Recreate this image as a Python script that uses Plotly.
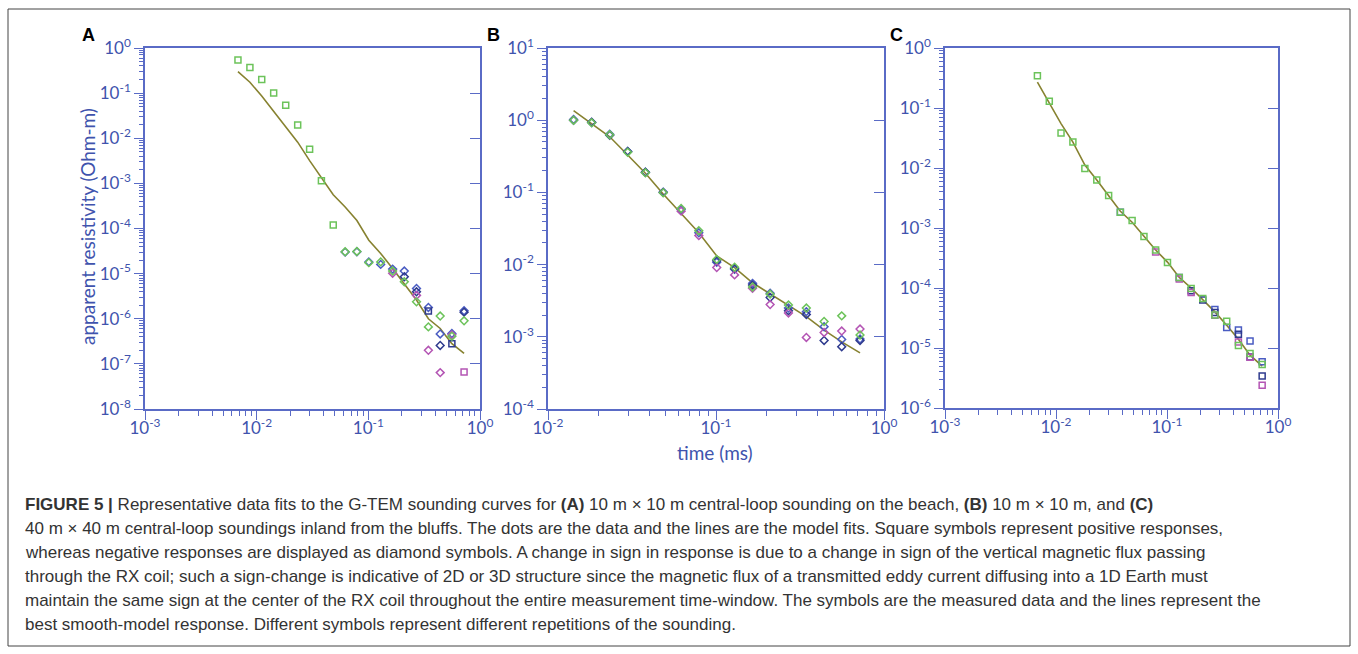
import plotly.graph_objects as go

W, H = 1358, 654

# ---------------- data ----------------
TIME_MS = [0.0068, 0.0087, 0.0111, 0.0142, 0.0182, 0.0233, 0.0298, 0.0380, 0.0485, 0.0620,
           0.0790, 0.101, 0.129, 0.165, 0.210, 0.270, 0.345, 0.440, 0.560, 0.720]

# signed apparent resistivity: positive -> square, negative -> diamond
N = None
A_REP1 = [0.54, 0.37, 0.20, 0.10, 0.054, 0.0196, 0.0057, 0.00114, 1.19e-4, -3.05e-5,
          -3.1e-5, -1.75e-5, -1.82e-5, -1.14e-5, -6.6e-6, -2.37e-6, -6.6e-7, -1.15e-6, -4.1e-7, -9.0e-7]
A_REP2 = [N, N, N, N, N, N, N, N, N, -3.0e-5,
          -3.05e-5, -1.82e-5, -1.6e-5, -1.26e-5, -1.14e-5, -4.7e-6, -1.78e-6, -4.6e-7, -4.7e-7, -1.5e-6]
A_REP3 = [N, N, N, N, N, N, N, N, N, N,
          N, N, N, N, -8.5e-6, -3.95e-6, 1.48e-6, -2.56e-7, 2.8e-7, -1.4e-6]
A_REP4 = [N, N, N, N, N, N, N, N, N, N,
          N, N, N, -1.02e-5, N, -3.3e-6, -2.0e-7, -6.4e-8, -4.4e-7, 6.6e-8]
A_MODEL = [0.30, 0.174, 0.086, 0.040, 0.0184, 0.0082, 0.0032, 0.00136, 5.6e-4, 3.0e-4,
           1.5e-4, 5.5e-5, 2.8e-5, 1.3e-5, 5.9e-6, 2.6e-6, 1.0e-6, 6.1e-7, 2.8e-7, 1.7e-7]

B_REP1 = [N, N, N, -1.0, -0.92, -0.63, -0.36, -0.187, -0.099, -0.060,
          -0.0295, -0.0118, -0.0092, -0.0049, -0.0039, -0.00275, -0.0025, -0.00163, -0.00195, -0.00106]
B_REP2 = [N, N, N, -1.02, -0.93, -0.64, -0.37, -0.19, -0.101, -0.058,
          -0.0276, -0.0108, -0.0086, -0.0055, -0.0040, -0.0025, -0.00223, -0.00138, -0.00092, -0.00093]
B_REP3 = [N, N, N, -1.0, -0.94, -0.62, -0.37, -0.19, -0.10, N,
          N, -0.0113, -0.0088, -0.0052, -0.0035, -0.0023, -0.00204, -0.00089, -0.00073, -0.00089]
B_REP4 = [N, N, N, N, N, N, N, N, N, -0.055,
          -0.0252, -0.0091, -0.0072, -0.0047, -0.0028, -0.00214, -0.00098, -0.00115, -0.0012, -0.00128]
B_MODEL = [N, N, N, 1.36, 0.90, 0.59, 0.33, 0.184, 0.095, 0.051,
           0.0277, 0.0132, 0.0091, 0.0056, 0.0039, 0.00270, 0.0019, 0.00124, 0.00085, 0.0006]

C_REP1 = [0.344, 0.13, 0.0384, 0.0271, 0.0098, 0.0063, 0.00348, 0.00183, 0.00133, 7.2e-4,
          4.3e-4, 2.67e-4, 1.5e-4, 9.8e-5, 6.7e-5, 3.55e-5, 2.8e-5, 1.1e-5, 8.1e-6, 5.3e-6]
C_REP2 = [N, N, N, N, N, N, N, 0.00183, N, N,
          N, N, 1.5e-4, N, N, 4.4e-5, 2.2e-5, 2.0e-5, 1.31e-5, 5.9e-6]
C_REP3 = [N, N, N, N, N, N, N, N, N, N,
          N, N, N, 9.0e-5, 6.3e-5, 3.9e-5, N, 1.7e-5, 7.1e-6, 3.4e-6]
C_REP4 = [N, N, N, N, N, N, N, N, N, N,
          4.0e-4, N, 1.41e-4, 8.4e-5, N, 3.5e-5, N, 1.26e-5, 7.0e-6, 2.4e-6]
C_MODEL = [0.27, 0.12, 0.055, 0.027, 0.0112, 0.0063, 0.0035, 0.0019, 0.00125, 7.2e-4,
           4.3e-4, 2.7e-4, 1.5e-4, 1.0e-4, 6.5e-5, 4.0e-5, 2.4e-5, 1.4e-5, 7.6e-6, 5.0e-6]

X_RANGES = [(-3, 0), (-2, 0), (-3, 0)]
Y_RANGES = [(-8, 0), (-4, 1), (-6, 0)]
PANEL_LETTERS = ["A", "B", "C"]

CAPTION = [
    "<b>FIGURE 5 |</b> Representative data fits to the G-TEM sounding curves for <b>(A)</b> 10 m \u00d7 10 m central-loop sounding on the beach, <b>(B)</b> 10 m \u00d7 10 m, and <b>(C)</b>",
    "40 m \u00d7 40 m central-loop soundings inland from the bluffs. The dots are the data and the lines are the model fits. Square symbols represent positive responses,",
    "whereas negative responses are displayed as diamond symbols. A change in sign in response is due to a change in sign of the vertical magnetic flux passing",
    "through the RX coil; such a sign-change is indicative of 2D or 3D structure since the magnetic flux of a transmitted eddy current diffusing into a 1D Earth must",
    "maintain the same sign at the center of the RX coil throughout the entire measurement time-window. The symbols are the measured data and the lines represent the",
    "best smooth-model response. Different symbols represent different repetitions of the sounding.",
]

# ---------------- styling ----------------
AXIS = "#5a6bc6"
TEXT = "#4053ad"
REP_COLORS = ["#6cc35a", "#4a5cc2", "#2f3b8e", "#b455b4"]
MODEL_COLOR = "#878230"
TICK_FONT = dict(family="Lato", size=17, color=TEXT)

# pixel boxes of the three plot areas (left, right, top, bottom)
BOXES = [(145, 480, 48, 409), (548, 884, 48, 409), (945, 1278, 48, 408)]

panels = [
    ([A_REP2, A_REP3, A_REP4, A_REP1], A_MODEL),
    ([B_REP2, B_REP3, B_REP4, B_REP1], B_MODEL),
    ([C_REP2, C_REP3, C_REP4, C_REP1], C_MODEL),
]
rep_color_order = [REP_COLORS[1], REP_COLORS[2], REP_COLORS[3], REP_COLORS[0]]

fig = go.Figure()


def sup(k):
    return "10<sup>%d</sup>" % k


for i, (reps, model) in enumerate(panels):
    xa = "x" if i == 0 else "x%d" % (i + 1)
    ya = "y" if i == 0 else "y%d" % (i + 1)
    yr = "y%d" % (i + 4)
    mx = [t for t, v in zip(TIME_MS, model) if v is not None]
    my = [v for v in model if v is not None]
    fig.add_trace(go.Scatter(x=mx, y=my, mode="lines", line=dict(color=MODEL_COLOR, width=1.6),
                             xaxis=xa, yaxis=ya, showlegend=False, hoverinfo="skip"))
    # invisible copy on the right-hand tick axis
    fig.add_trace(go.Scatter(x=mx, y=my, mode="lines", line=dict(color="rgba(0,0,0,0)", width=0),
                             xaxis=xa, yaxis=yr, showlegend=False, hoverinfo="skip"))
    for rep, col in zip(reps, rep_color_order):
        px = [t for t, v in zip(TIME_MS, rep) if v is not None]
        py = [abs(v) for v in rep if v is not None]
        sym = ["square-open" if v > 0 else "diamond-open" for v in rep if v is not None]
        fig.add_trace(go.Scatter(x=px, y=py, mode="markers",
                                 marker=dict(symbol=sym, size=6, color=col, line=dict(width=1.5, color=col)),
                                 xaxis=xa, yaxis=ya, showlegend=False))

layout = dict(width=W, height=H, margin=dict(l=0, r=0, t=0, b=0, pad=0, autoexpand=False),
              paper_bgcolor="white", plot_bgcolor="white", showlegend=False)

for i in range(3):
    l, r, t, b = BOXES[i]
    xr, yrng = X_RANGES[i], Y_RANGES[i]
    xmaj = list(range(xr[0], xr[1] + 1))
    ymaj = list(range(yrng[0], yrng[1] + 1))
    xminor = [m * 10.0 ** k for k in range(xr[0], xr[1]) for m in range(2, 10)]
    yminor = [m * 10.0 ** k for k in range(yrng[0], yrng[1]) for m in range(2, 10)]
    xk = "xaxis" if i == 0 else "xaxis%d" % (i + 1)
    yk = "yaxis" if i == 0 else "yaxis%d" % (i + 1)
    ya_name = "y" if i == 0 else "y%d" % (i + 1)
    xa_name = "x" if i == 0 else "x%d" % (i + 1)
    layout[xk] = dict(type="log", range=list(xr), domain=[l / W, r / W], anchor=ya_name, automargin=False,
                      showgrid=False, zeroline=False, showline=True, linecolor=AXIS, linewidth=1.6,
                      mirror=True, ticks="outside", ticklen=9, tickwidth=1.4, tickcolor=AXIS,
                      tickmode="array", tickvals=[10.0 ** k for k in xmaj], ticktext=[sup(k) for k in xmaj],
                      tickfont=TICK_FONT, ticklabelstandoff=-6,
                      minor=dict(tickmode="array", tickvals=xminor, ticks="outside", ticklen=5,
                                 tickwidth=1.2, tickcolor=AXIS, showgrid=False))
    layout[yk] = dict(type="log", range=list(yrng), domain=[1 - b / H, 1 - t / H], anchor=xa_name,
                      automargin=False,
                      showgrid=False, zeroline=False, showline=True, linecolor=AXIS, linewidth=1.6,
                      mirror=True, ticks="outside", ticklen=9, tickwidth=1.4, tickcolor=AXIS,
                      tickmode="array", tickvals=[10.0 ** k for k in ymaj], ticktext=[sup(k) for k in ymaj],
                      tickfont=TICK_FONT,
                      minor=dict(tickmode="array", tickvals=yminor, ticks="outside", ticklen=4,
                                 tickwidth=1.0, tickcolor=AXIS, showgrid=False))
    layout["yaxis%d" % (i + 4)] = dict(type="log", range=list(yrng), overlaying=ya_name, side="right",
                                       anchor=xa_name, automargin=False, showgrid=False, zeroline=False,
                                       showline=False,
                                       ticks="inside", ticklen=10, tickwidth=1.4, tickcolor=AXIS,
                                       tickmode="array", tickvals=[10.0 ** k for k in ymaj],
                                       showticklabels=False)

fig.update_layout(**layout)

ann = []
LETTER_POS = [(88, 35), (493, 35), (896, 35)]
for letter, (lx, ly) in zip(PANEL_LETTERS, LETTER_POS):
    ann.append(dict(x=lx / W, y=1 - ly / H, xref="paper", yref="paper", text="<b>%s</b>" % letter,
                    showarrow=False, font=dict(family="Liberation Sans", size=18, color="black"),
                    xanchor="center", yanchor="middle"))
ann.append(dict(x=87 / W, y=1 - 226 / H, xref="paper", yref="paper", text="apparent resistivity (Ohm-m)",
                textangle=-90, showarrow=False, font=dict(family="Lato", size=19, color=TEXT),
                xanchor="center", yanchor="middle"))
ann.append(dict(x=715 / W, y=1 - 452 / H, xref="paper", yref="paper", text="time (ms)",
                showarrow=False, font=dict(family="Lato", size=19, color=TEXT),
                xanchor="center", yanchor="middle"))
for j, line in enumerate(CAPTION):
    ann.append(dict(x=23 / W, y=1 - (504 + 24 * j) / H, xref="paper", yref="paper", text=line,
                    showarrow=False, font=dict(family="Liberation Sans", size=17, color="#333333"),
                    xanchor="left", yanchor="middle", align="left"))
fig.update_layout(annotations=ann)

fig.add_shape(type="rect", xref="paper", yref="paper", x0=8 / W, x1=1350 / W, y0=1 - 646 / H, y1=1 - 9 / H,
              line=dict(color="#444444", width=1), fillcolor="rgba(0,0,0,0)", layer="below")

fig.write_html("out.html")
